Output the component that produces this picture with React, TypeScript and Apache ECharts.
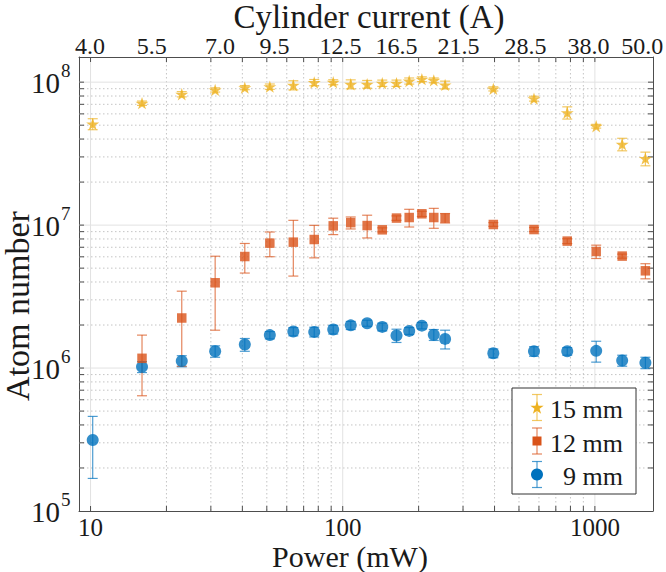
import React, { useEffect, useRef } from 'react';
import * as echarts from 'echarts';

// ---------- data ----------
const powerMW = [10.2, 16.0, 23.0, 31.2, 40.9, 51.4, 63.7, 77.1, 91.7, 107.6, 125.0, 143.5, 163.4, 183.5, 206.0, 229.7, 254.7, 395.6, 573.4, 776.9, 1012, 1283, 1586];

const atoms15mm = [5.1e7, 7.13e7, 8.24e7, 8.83e7, 9.16e7, 9.31e7, 9.53e7, 9.94e7, 1.0e8, 9.68e7, 9.68e7, 9.84e7, 9.84e7, 1.02e8, 1.05e8, 1.03e8, 9.57e7, 8.98e7, 7.67e7, 6.12e7, 4.92e7, 3.68e7, 2.92e7];
const err15mm = [4.5e6, 2.5e6, 3.5e6, 3e6, 3e6, 4e6, 7e6, 5e6, 4e6, 7e6, 6e6, 5e6, 5e6, 5e6, 4e6, 4e6, 6e6, 3e6, 3e6, 6e6, 1.5e6, 3.7e6, 3.2e6];

const power12mm = [16.0, 23.0, 31.2, 40.9, 51.4, 63.7, 77.1, 91.7, 107.6, 125.0, 143.5, 163.4, 183.5, 206.0, 229.7, 254.7, 395.6, 573.4, 776.9, 1012, 1283, 1586];
const atoms12mm = [1.17e6, 2.24e6, 3.95e6, 6.03e6, 7.48e6, 7.6e6, 7.93e6, 9.88e6, 1.04e7, 9.93e6, 9.27e6, 1.12e7, 1.13e7, 1.2e7, 1.13e7, 1.12e7, 1.01e7, 9.31e6, 7.73e6, 6.54e6, 6.07e6, 4.79e6];
const err12mm = [0.53e6, 1.21e6, 2.11e6, 1.41e6, 1.47e6, 3.2e6, 2.03e6, 1.3e6, 1.0e6, 1.8e6, 0.3e6, 0.4e6, 1.6e6, 0.5e6, 1.8e6, 0.85e6, 0.3e6, 0.3e6, 0.3e6, 0.7e6, 0.2e6, 0.58e6];

const atoms9mm = [3.14e5, 1.02e6, 1.12e6, 1.31e6, 1.46e6, 1.70e6, 1.80e6, 1.79e6, 1.86e6, 1.99e6, 2.06e6, 1.94e6, 1.69e6, 1.82e6, 1.98e6, 1.71e6, 1.60e6, 1.27e6, 1.31e6, 1.31e6, 1.32e6, 1.13e6, 1.09e6];
const err9mm = [1.45e5, 0.09e6, 0.1e6, 0.12e6, 0.15e6, 0.1e6, 0.12e6, 0.14e6, 0.13e6, 0.13e6, 0.1e6, 0.12e6, 0.18e6, 0.1e6, 0.1e6, 0.15e6, 0.24e6, 0.09e6, 0.1e6, 0.08e6, 0.22e6, 0.1e6, 0.1e6];

const currentLabels = ['4.0', '5.5', '7.0', '9.5', '12.5', '16.5', '21.5', '28.5', '38.0', '50.0'];
const currentLabelPower = [9.94, 17.5, 32.6, 53.7, 98.1, 163.6, 288, 530.5, 942.6, 1542];

const xMajor = [10, 100, 1000];
const xMinor = [20, 30, 40, 50, 60, 70, 80, 90, 200, 300, 400, 500, 600, 700, 800, 900];
const yExponents = [5, 6, 7, 8];
const yMajor = [1e6, 1e7, 1e8];
const yMinor = [2e5, 3e5, 4e5, 5e5, 6e5, 7e5, 8e5, 9e5, 2e6, 3e6, 4e6, 5e6, 6e6, 7e6, 8e6, 9e6, 2e7, 3e7, 4e7, 5e7, 6e7, 7e7, 8e7, 9e7];

const legendNames = ['15 mm', '12 mm', '9 mm'];

// ---------- styles ----------
const FONT = 'Liberation Serif';
const C15 = '#EDB120';
const C12 = '#D95319';
const C9 = '#0072BD';
const AXIS = '#4d4d4d';
const TEXT = '#1a1a1a';
const STAR_PATH = 'path://M50 0L61.2 34.5L97.6 34.5L68.2 55.9L79.4 90.5L50 69.1L20.6 90.5L31.8 55.9L2.4 34.5L38.8 34.5Z';

const X_MIN = 9, X_MAX = 1700, Y_MIN = 1e5, Y_MAX = 1.5e8;

function starPoints(cx: number, cy: number, r: number) {
  const pts: number[][] = [];
  for (let i = 0; i < 10; i++) {
    const a = -Math.PI / 2 + (i * Math.PI) / 5;
    const rr = i % 2 === 0 ? r : r * 0.382;
    pts.push([cx + rr * Math.cos(a), cy + rr * Math.sin(a)]);
  }
  return pts;
}

function gridSeries(axis: 'x' | 'y', values: number[], major: boolean) {
  return {
    type: 'custom',
    silent: true,
    z: 1,
    clip: false,
    encode: { x: 0, y: 1 },
    data: values.map((v) => (axis === 'x' ? [v, 1e6] : [100, v])),
    renderItem: (params: any, api: any) => {
      const cs = params.coordSys;
      const p = api.coord([api.value(0), api.value(1)]);
      const gridStyle = major
        ? { stroke: '#e2e2e2', lineWidth: 1 }
        : { stroke: '#c4c4c4', lineWidth: 1, lineDash: [1.5, 2.5] };
      const tickStyle = { stroke: AXIS, lineWidth: 1 };
      const tl = 5;
      const ch: any[] = [];
      if (axis === 'x') {
        const x = p[0];
        const y0 = cs.y, y1 = cs.y + cs.height;
        ch.push({ type: 'line', shape: { x1: x, y1: y0, x2: x, y2: y1 }, style: gridStyle });
        ch.push({ type: 'line', shape: { x1: x, y1: y1, x2: x, y2: y1 - tl }, style: tickStyle });
        ch.push({ type: 'line', shape: { x1: x, y1: y0, x2: x, y2: y0 + tl }, style: tickStyle });
      } else {
        const y = p[1];
        const x0 = cs.x, x1 = cs.x + cs.width;
        ch.push({ type: 'line', shape: { x1: x0, y1: y, x2: x1, y2: y }, style: gridStyle });
        ch.push({ type: 'line', shape: { x1: x0, y1: y, x2: x0 + tl, y2: y }, style: tickStyle });
        ch.push({ type: 'line', shape: { x1: x1, y1: y, x2: x1 - tl, y2: y }, style: tickStyle });
      }
      return { type: 'group', children: ch };
    },
  };
}

function errorSeries(name: string, xs: number[], ys: number[], es: number[], color: string) {
  return {
    type: 'custom',
    name,
    silent: true,
    z: 3,
    encode: { x: 0, y: [1, 2] },
    data: xs.map((x, i) => [x, ys[i] - es[i], ys[i] + es[i]]),
    renderItem: (params: any, api: any) => {
      const lo = api.coord([api.value(0), api.value(1)]);
      const hi = api.coord([api.value(0), api.value(2)]);
      const w = 5;
      const st = { stroke: color, lineWidth: 1.2, opacity: 0.7 };
      return {
        type: 'group',
        children: [
          { type: 'line', shape: { x1: lo[0], y1: lo[1], x2: hi[0], y2: hi[1] }, style: st },
          { type: 'line', shape: { x1: lo[0] - w, y1: lo[1], x2: lo[0] + w, y2: lo[1] }, style: st },
          { type: 'line', shape: { x1: hi[0] - w, y1: hi[1], x2: hi[0] + w, y2: hi[1] }, style: st },
        ],
      };
    },
  };
}

function isPow10(v: number) {
  const l = Math.log10(v);
  return Math.abs(l - Math.round(l)) < 1e-6;
}

export default function App() {
  const ref = useRef<HTMLDivElement>(null);
  useEffect(() => {
    if (!ref.current) return;
    const chart = echarts.init(ref.current, undefined, { renderer: 'svg' });
    const logAxisBase = { type: 'log', logBase: 10 };
    const option: any = {
      animation: false,
      backgroundColor: '#ffffff',
      grid: { left: 79, right: 13, top: 57, bottom: 61, containLabel: false, outerBoundsMode: 'none' },
      xAxis: [
        {
          ...logAxisBase, min: X_MIN, max: X_MAX, position: 'bottom',
          axisLine: { show: true, onZero: false, lineStyle: { color: AXIS, width: 1 } },
          axisTick: { show: false }, splitLine: { show: false }, minorTick: { show: false },
          axisLabel: {
            show: true, margin: 4, fontFamily: FONT, fontSize: 25, color: TEXT,
            formatter: (v: number) => (isPow10(v) ? String(Math.round(v)) : ''),
          },
        },
        {
          ...logAxisBase, min: X_MIN, max: X_MAX, position: 'top',
          axisLine: { show: true, onZero: false, lineStyle: { color: AXIS, width: 1 } },
          axisTick: { show: false }, splitLine: { show: false }, axisLabel: { show: false },
        },
      ],
      yAxis: [
        {
          ...logAxisBase, min: Y_MIN, max: Y_MAX, position: 'left',
          axisLine: { show: true, onZero: false, lineStyle: { color: AXIS, width: 1 } },
          axisTick: { show: false }, splitLine: { show: false }, axisLabel: { show: false },
        },
        {
          ...logAxisBase, min: Y_MIN, max: Y_MAX, position: 'right',
          axisLine: { show: true, onZero: false, lineStyle: { color: AXIS, width: 1 } },
          axisTick: { show: false }, splitLine: { show: false }, axisLabel: { show: false },
        },
      ],
      series: [
        gridSeries('x', xMinor, false),
        gridSeries('y', yMinor, false),
        gridSeries('x', xMajor, true),
        gridSeries('y', yMajor, true),
        errorSeries('9 mm err', powerMW, atoms9mm, err9mm, C9),
        {
          type: 'scatter', name: legendNames[2], z: 4, symbol: 'circle', symbolSize: 12,
          itemStyle: { color: C9 }, data: powerMW.map((x, i) => [x, atoms9mm[i]]),
        },
        errorSeries('12 mm err', power12mm, atoms12mm, err12mm, C12),
        {
          type: 'scatter', name: legendNames[1], z: 4, symbol: 'rect', symbolSize: 9.5,
          itemStyle: { color: C12 }, data: power12mm.map((x, i) => [x, atoms12mm[i]]),
        },
        errorSeries('15 mm err', powerMW, atoms15mm, err15mm, C15),
        {
          type: 'scatter', name: legendNames[0], z: 4, symbol: STAR_PATH, symbolSize: [13, 12.4],
          itemStyle: { color: C15 }, data: powerMW.map((x, i) => [x, atoms15mm[i]]),
        },
      ],
    };
    chart.setOption(option);

    const px = (v: number) => chart.convertToPixel({ xAxisIndex: 0 }, v) as number;
    const py = (v: number) => chart.convertToPixel({ yAxisIndex: 0 }, v) as number;

    const g: any[] = [];
    // top axis labels
    currentLabels.forEach((t, i) => {
      g.push({
        type: 'text', x: px(currentLabelPower[i]), y: 46, silent: true,
        style: { text: t, font: `24px "${FONT}"`, fill: TEXT, textAlign: 'center', textVerticalAlign: 'middle' },
      });
    });
    // y tick labels 10^n
    yExponents.forEach((e) => {
      const y = py(Math.pow(10, e));
      g.push({
        type: 'text', x: 60, y: y + 1, silent: true,
        style: { text: '10', font: `29px "${FONT}"`, fill: TEXT, textAlign: 'right', textVerticalAlign: 'middle' },
      });
      g.push({
        type: 'text', x: 61, y: y - 12, silent: true,
        style: { text: String(e), font: `19px "${FONT}"`, fill: TEXT, textAlign: 'left', textVerticalAlign: 'middle' },
      });
    });
    // axis titles
    g.push({
      type: 'text', x: 369, y: 16.5, silent: true,
      style: { text: 'Cylinder current (A)', font: `33px "${FONT}"`, fill: TEXT, textAlign: 'center', textVerticalAlign: 'middle' },
    });
    g.push({
      type: 'text', x: 350, y: 556.6, silent: true,
      style: { text: 'Power (mW)', font: `30px "${FONT}"`, fill: TEXT, textAlign: 'center', textVerticalAlign: 'middle' },
    });
    g.push({
      type: 'text', x: 17, y: 306, rotation: Math.PI / 2, silent: true,
      style: { text: 'Atom number', font: `34px "${FONT}"`, fill: TEXT, textAlign: 'center', textVerticalAlign: 'middle' },
    });
    // legend
    const lx = 512, ly = 388, lw = 124, lh = 106;
    g.push({ type: 'rect', shape: { x: lx, y: ly, width: lw, height: lh }, style: { fill: '#ffffff', stroke: '#333333', lineWidth: 1 }, z: 100 });
    const rows = [
      { c: C15, y: 407.5, name: legendNames[0] },
      { c: C12, y: 441, name: legendNames[1] },
      { c: C9, y: 474.5, name: legendNames[2] },
    ];
    const icx = 537;
    rows.forEach((r, i) => {
      const st = { stroke: r.c, lineWidth: 1.2, opacity: 0.7 };
      g.push({ type: 'line', z: 101, shape: { x1: icx, y1: r.y - 13, x2: icx, y2: r.y + 13 }, style: st });
      g.push({ type: 'line', z: 101, shape: { x1: icx - 5, y1: r.y - 13, x2: icx + 5, y2: r.y - 13 }, style: st });
      g.push({ type: 'line', z: 101, shape: { x1: icx - 5, y1: r.y + 13, x2: icx + 5, y2: r.y + 13 }, style: st });
      if (i === 0) {
        g.push({ type: 'polygon', z: 102, shape: { points: starPoints(icx, r.y + 0.5, 7) }, style: { fill: r.c } });
      } else if (i === 1) {
        g.push({ type: 'rect', z: 102, shape: { x: icx - 4.5, y: r.y - 4.5, width: 9, height: 9 }, style: { fill: r.c } });
      } else {
        g.push({ type: 'circle', z: 102, shape: { cx: icx, cy: r.y, r: 6 }, style: { fill: r.c } });
      }
      g.push({
        type: 'text', z: 102, x: 623, y: r.y + 2, silent: true,
        style: { text: r.name, font: `26px "${FONT}"`, fill: TEXT, textAlign: 'right', textVerticalAlign: 'middle' },
      });
    });
    chart.setOption({ graphic: g });

    return () => chart.dispose();
  }, []);

  return <div ref={ref} style={{ position: 'fixed', left: 0, top: 0, width: 666, height: 572 }} />;
}
